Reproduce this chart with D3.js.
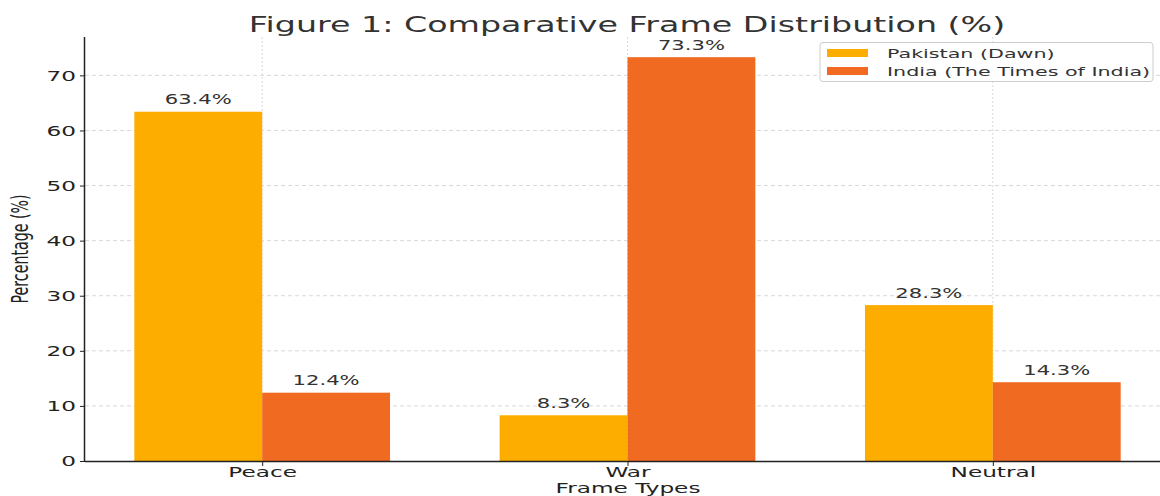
<!DOCTYPE html>
<html><head><meta charset="utf-8">
<script src="https://cdn.jsdelivr.net/npm/d3@7"></script>
<style>html,body{margin:0;padding:0;background:#fff;}svg{display:block;}</style>
</head><body>
<svg id="c" width="1160" height="496"></svg>
<script>
const categories = ["Peace", "War", "Neutral"];
const seriesNames = ["Pakistan (Dawn)", "India (The Times of India)"];
const pakistan = [63.4, 8.3, 28.3];
const india = [12.4, 73.3, 14.3];
const yTicks = [0, 10, 20, 30, 40, 50, 60, 70];
const colors = ["#FDAD00", "#F16A22"];

const svg = d3.select("#c");
const mLeft = 85, mRight = 1170, mTop = 37, mBottom = 461;
const S = 1.6; // horizontal stretch of the reference image
const x = d3.scaleLinear().domain([-0.485, 2.485]).range([mLeft, mRight]);
const y = d3.scaleLinear().domain([0, 76.965]).range([mBottom, mTop]);
const bw = 0.35;
const font = "DejaVu Sans, sans-serif";

function stext(parent, tx, ty, str, size, anchor, fill) {
  return parent.append("text")
    .attr("transform", `translate(${tx},${ty}) scale(${S},1)`)
    .attr("text-anchor", anchor).attr("font-family", font).attr("font-size", size)
    .attr("fill", fill).text(str);
}

// grid
const g = svg.append("g");
g.selectAll("line.hg").data(yTicks.slice(1)).join("line")
  .attr("x1", mLeft).attr("x2", 1160).attr("y1", d => y(d)).attr("y2", d => y(d))
  .attr("stroke", "#d8d8d8").attr("stroke-width", 1).attr("stroke-dasharray", "4,3");
g.selectAll("line.vg").data(categories).join("line")
  .attr("x1", (d, i) => x(i)).attr("x2", (d, i) => x(i)).attr("y1", mTop).attr("y2", mBottom)
  .attr("stroke", "#d8d8d8").attr("stroke-width", 1).attr("stroke-dasharray", "2,2");

// bars
const series = [pakistan, india];
series.forEach((vals, s) => {
  const off = s === 0 ? -bw : 0;
  svg.append("g").selectAll("rect").data(vals).join("rect")
    .attr("x", (d, i) => x(i + off)).attr("width", x(bw) - x(0))
    .attr("y", d => y(d)).attr("height", d => y(0) - y(d))
    .attr("fill", colors[s]);
  const lgp = svg.append("g");
  vals.forEach((d, i) => {
    stext(lgp, x(i + off + bw / 2), y(d) - 7.5, d.toFixed(1) + "%", 13.2, "middle", "#333");
  });
});

// axes
const yAxis = d3.axisLeft(y).tickValues(yTicks).tickSize(5).tickPadding(4);
const ya = svg.append("g").attr("transform", `translate(${mLeft},0)`).call(yAxis);
ya.select(".domain").attr("stroke", "#222").attr("stroke-width", 1.5).attr("d", `M-0.5,${mTop}V${mBottom}`);
ya.selectAll(".tick line").attr("stroke", "#222");
ya.selectAll(".tick text").attr("font-family", font).attr("font-size", 14.5).attr("fill", "#222")
  .each(function () {
    const tx = +this.getAttribute("x");
    d3.select(this).attr("x", 0).attr("transform", `translate(${tx},0) scale(${S},1)`);
  });

const xAxis = d3.axisBottom(x).tickValues([0, 1, 2]).tickFormat(i => categories[i]).tickSize(5).tickPadding(1);
const xa = svg.append("g").attr("transform", `translate(0,${mBottom})`).call(xAxis);
xa.select(".domain").attr("stroke", "#222").attr("stroke-width", 1.5).attr("d", `M${mLeft},0.5H1160`);
xa.selectAll(".tick line").attr("stroke", "#222");
xa.selectAll(".tick text").attr("font-family", font).attr("font-size", 14.5).attr("fill", "#222")
  .attr("transform", `scale(${S},1)`);

// title & labels
stext(svg, 627, 31.5, "Figure 1: Comparative Frame Distribution (%)", 20.8, "middle", "#333");
stext(svg, 628, 492.5, "Frame Types", 14.5, "middle", "#222");
svg.append("text").attr("transform", `translate(28,249) scale(${S},1) rotate(-90)`).attr("text-anchor", "middle")
  .attr("font-family", font).attr("font-size", 14.2).attr("fill", "#222").text("Percentage (%)");

// legend
const lg = svg.append("g");
lg.append("rect").attr("x", 820).attr("y", 42.5).attr("width", 333).attr("height", 39).attr("rx", 3)
  .attr("fill", "#fff").attr("fill-opacity", 0.85).attr("stroke", "#ccc");
seriesNames.forEach((n, i) => {
  lg.append("rect").attr("x", 827).attr("y", 49 + i * 18).attr("width", 41).attr("height", 8).attr("fill", colors[i]);
  stext(lg, 887, 57.5 + i * 18, n, 12.9, "start", "#333");
});
</script>
</body></html>
